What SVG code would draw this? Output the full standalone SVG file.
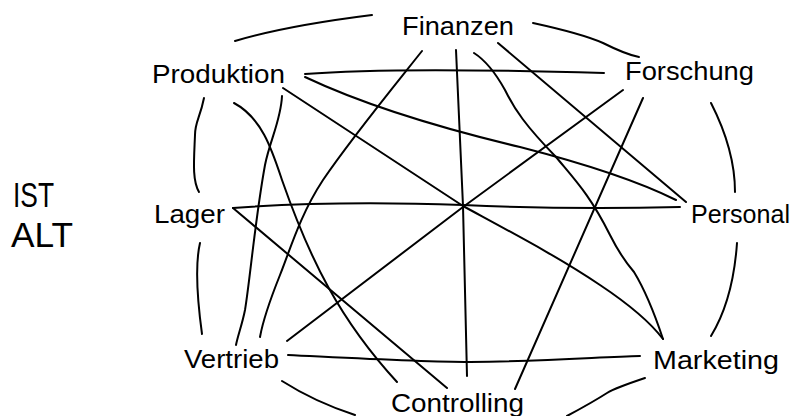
<svg xmlns="http://www.w3.org/2000/svg" width="796" height="416" viewBox="0 0 796 416">
<style>
.lbl{font-family:"Liberation Sans","DejaVu Sans",Arial,sans-serif;font-size:25px;fill:#000}
.big{font-family:"Liberation Sans","DejaVu Sans",Arial,sans-serif;font-size:35px;fill:#000}
.e{fill:none;stroke:#000;stroke-width:2;stroke-linecap:round;stroke-linejoin:round}
</style>
<rect width="796" height="416" fill="#fff"/>
<g id="title">
<text class="big" x="13" y="207" textLength="41" lengthAdjust="spacingAndGlyphs">IST</text>
<text class="big" x="11" y="247" textLength="62" lengthAdjust="spacingAndGlyphs">ALT</text>
</g>
<g id="connectors">
<path class="e" d="M235,41 C255,35 300,24 372,15"/>
<path class="e" d="M533,23 C565,30 585,35 603,43 C615,49 628,55 639,57"/>
<path class="e" d="M711,103 Q735,150 735,192"/>
<path class="e" d="M737,243 Q733,300 711,336"/>
<path class="e" d="M645,378 C630,383 615,388 607,393 C593,402 580,409 567,416"/>
<path class="e" d="M282,381 Q315,402 355,415"/>
<path class="e" d="M200,243 C196,260 196,290 202,334"/>
<path class="e" d="M204,98 C200,118 195,122 195,135 C194,160 192,180 199,192"/>
<path class="e" d="M305,74 C380,68 500,70 604,73"/>
<path class="e" d="M305,77 C360,103 440,128 520,147 C590,165 640,182 676,200"/>
<path class="e" d="M283,88 L463,206 C520,237 560,258 600,285 C630,305 650,322 663,339"/>
<path class="e" d="M234,103 C262,118 272,150 282,180 C310,260 340,320 397,382"/>
<path class="e" d="M282,96 C281,120 270,140 265,165 C255,220 250,280 245,310 C242,325 238,335 236,345"/>
<path class="e" d="M422,51 C395,85 350,140 323,180 C300,215 290,250 280,275 C268,305 263,320 260,337"/>
<path class="e" d="M456,50 L463,206 L467,376"/>
<path class="e" d="M474,53 C485,60 495,72 505,90 C515,110 525,125 556,157 C575,180 590,195 610,235 C620,255 628,265 634,272 C645,290 655,315 663,339"/>
<path class="e" d="M498,43 L686,202"/>
<path class="e" d="M623,90 L463,207 L287,341"/>
<path class="e" d="M643,98 L515,389"/>
<path class="e" d="M233,208 C300,203 380,202 463,205 C530,208 596,209 680,207"/>
<path class="e" d="M233,208 L447,388"/>
<path class="e" d="M288,355 C350,358 420,362 470,362 C550,361 600,357 640,356"/>
</g>
<g id="finanzen"><text class="lbl" x="402" y="35" textLength="112" lengthAdjust="spacingAndGlyphs">Finanzen</text></g>
<g id="produktion"><text class="lbl" x="152" y="83" textLength="133" lengthAdjust="spacingAndGlyphs">Produktion</text></g>
<g id="forschung"><text class="lbl" x="625" y="80" textLength="129" lengthAdjust="spacingAndGlyphs">Forschung</text></g>
<g id="lager"><text class="lbl" x="154" y="223" textLength="71" lengthAdjust="spacingAndGlyphs">Lager</text></g>
<g id="personal"><text class="lbl" x="691" y="223" textLength="99" lengthAdjust="spacingAndGlyphs">Personal</text></g>
<g id="marketing"><text class="lbl" x="653" y="369" textLength="126" lengthAdjust="spacingAndGlyphs">Marketing</text></g>
<g id="controlling"><text class="lbl" x="391" y="412" textLength="133" lengthAdjust="spacingAndGlyphs">Controlling</text></g>
<g id="vertrieb"><text class="lbl" x="184" y="368" textLength="95" lengthAdjust="spacingAndGlyphs">Vertrieb</text></g>
</svg>
